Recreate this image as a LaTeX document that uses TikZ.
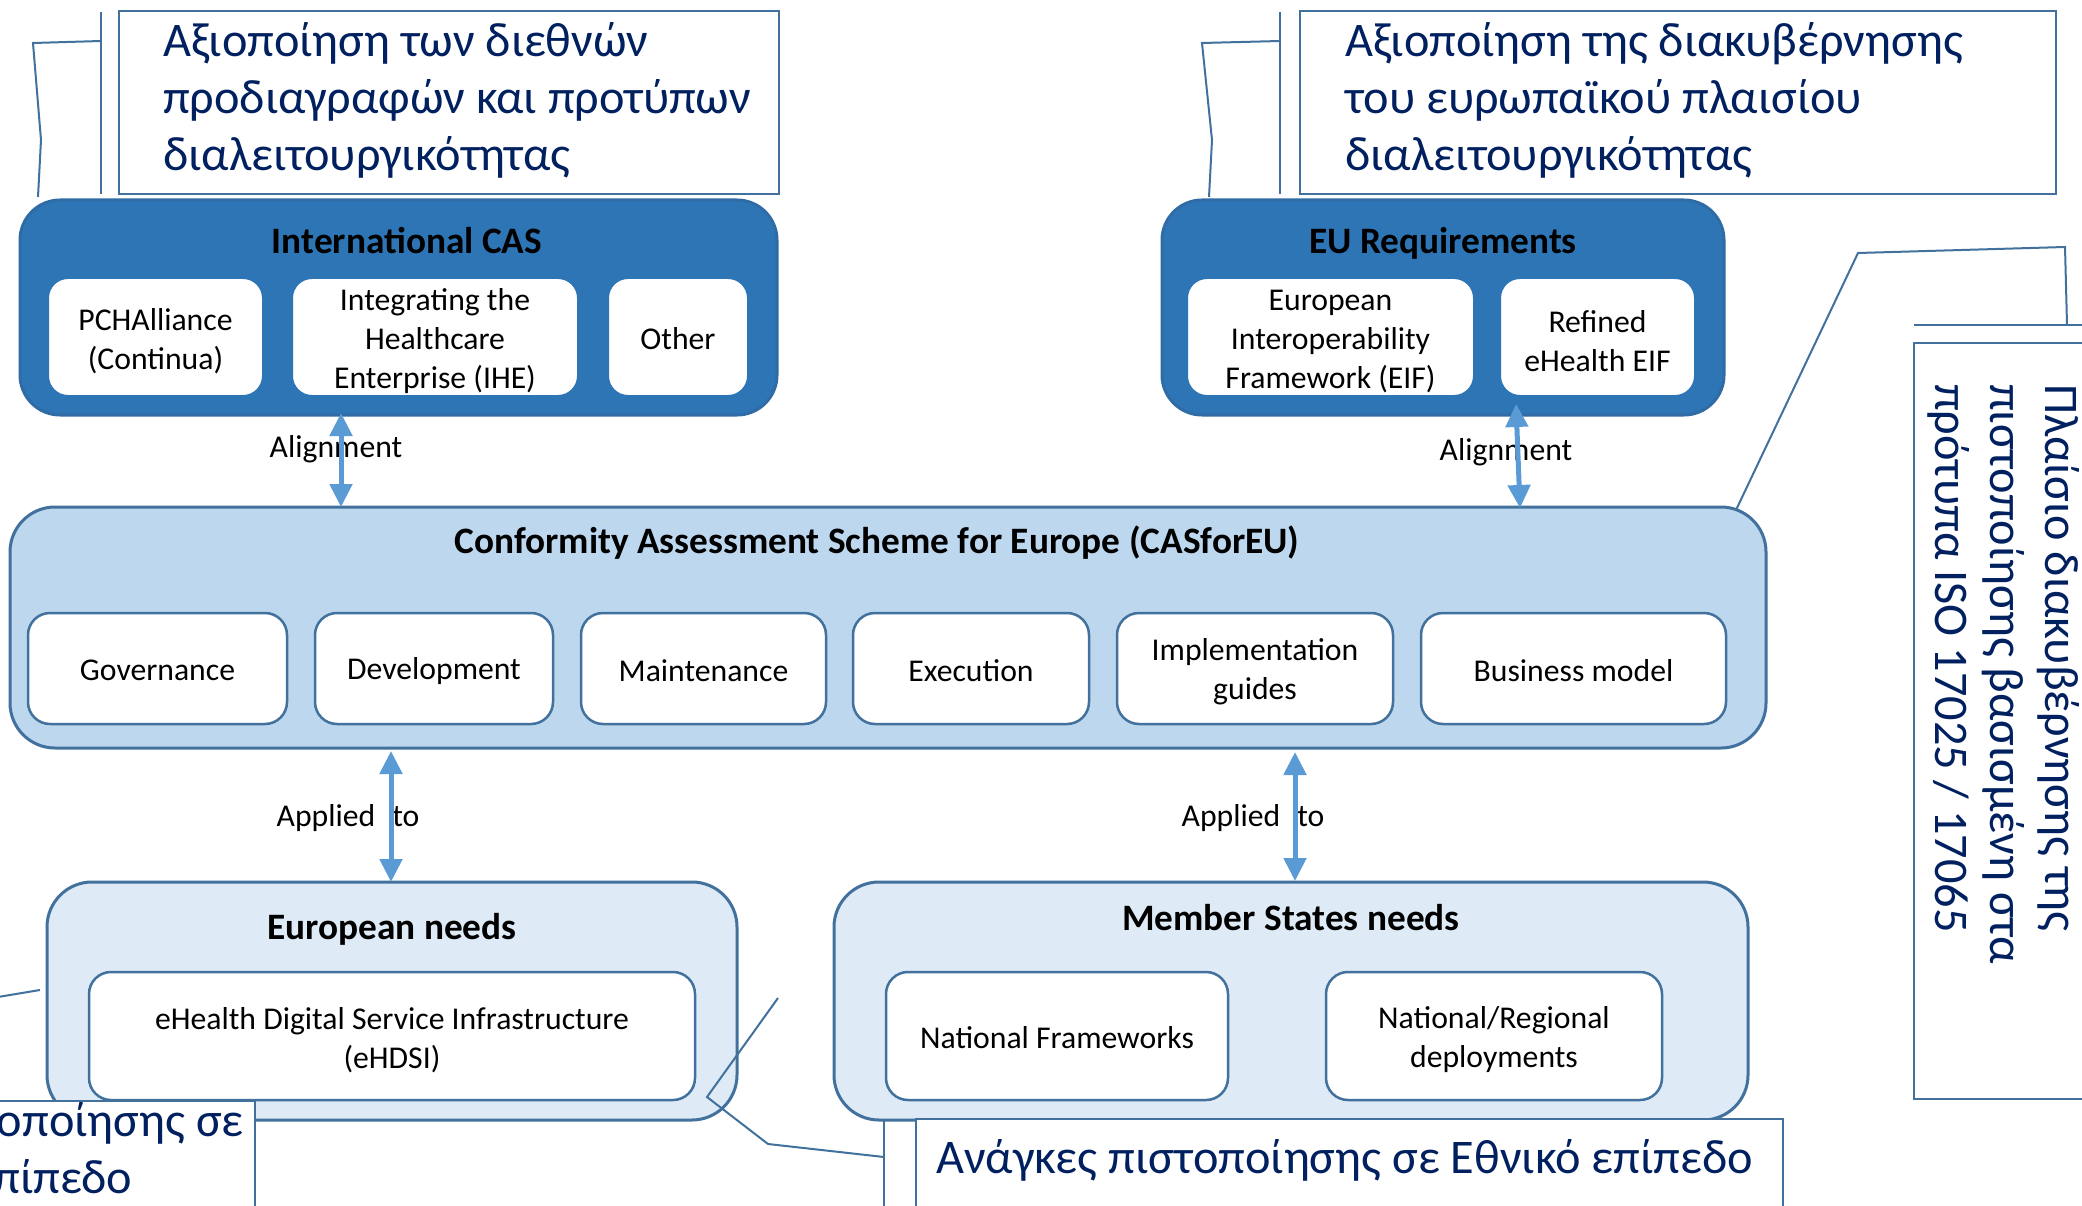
\documentclass[tikz,border=0pt]{standalone}
\usepackage{fontspec}
\setmainfont{Carlito}
\usetikzlibrary{arrows.meta}
\definecolor{darkblue}{HTML}{2E75B6}
\definecolor{darkedge}{HTML}{2F6CA6}
\definecolor{midfill}{HTML}{BDD7EE}
\definecolor{lightfill}{HTML}{DEEBF7}
\definecolor{edgeblue}{HTML}{41719C}
\definecolor{navy}{HTML}{002060}
\definecolor{arrowblue}{HTML}{5B9BD5}
\begin{document}
\begin{tikzpicture}[x=1pt,y=-1pt,
  bigdark/.style={draw=darkedge, line width=3pt, fill=darkblue, rounded corners=40pt, inner sep=0pt},
  bigmid/.style={draw=edgeblue, line width=3pt, fill=midfill, rounded corners=45pt, inner sep=0pt},
  biglight/.style={draw=edgeblue, line width=3pt, fill=lightfill, rounded corners=45pt, inner sep=0pt},
  whitein/.style={draw=darkblue, line width=2pt, fill=white, rounded corners=20pt, inner sep=0pt},
  whiteedge/.style={draw=edgeblue, line width=2.5pt, fill=white, rounded corners=22pt, inner sep=0pt},
  intext/.style={inner sep=0pt, align=center, font=\fontsize{31.7}{39}\selectfont},
  titletext/.style={font=\fontsize{37.3}{45}\selectfont\bfseries, inner sep=0pt},
  labeltext/.style={font=\fontsize{31.7}{39}\selectfont, inner sep=0pt},
  callbox/.style={draw=edgeblue, line width=2pt, fill=white, inner sep=0pt},
  calltext/.style={font=\fontsize{48.3}{57}\selectfont, text=navy, inner sep=0pt, align=left},
  leader/.style={draw=edgeblue, line width=2pt},
  biarrow/.style={draw=arrowblue, line width=5pt, {Triangle[length=23pt,width=22pt]}-{Triangle[length=23pt,width=22pt]}}
]
\useasboundingbox (0,0) rectangle (2082,1206);
\fill[white] (0,0) rectangle (2082,1206);
\clip (0,0) rectangle (2082,1206);

% ---------- callouts (top) ----------
\node[callbox, minimum width=660pt, minimum height=183pt] (tlbox) at (448.5,102.5) {};
\node[calltext, anchor=north west] (tltext) at (163,22) {Αξιοποίηση των διεθνών\\προδιαγραφών και προτύπων\\διαλειτουργικότητας};
\coordinate (tlbar1) at (101,12);
\coordinate (tlbar2) at (101,194);
\coordinate (tlj) at (101,41);
\coordinate (tlw1) at (33,43);
\coordinate (tlw2) at (41,140);
\coordinate (tlend) at (38,197);
\draw[leader] (tlbar1) -- (tlbar2);
\draw[leader] (tlj) -- (tlw1) -- (tlw2) -- (tlend);

\node[callbox, minimum width=756pt, minimum height=183pt] (trbox) at (1678,102.5) {};
\node[calltext, anchor=north west] (trtext) at (1345,22) {Αξιοποίηση της διακυβέρνησης\\του ευρωπαϊκού πλαισίου\\διαλειτουργικότητας};
\coordinate (trbar1) at (1280,12);
\coordinate (trbar2) at (1280,194);
\coordinate (trj) at (1280,41);
\coordinate (trw1) at (1202,43);
\coordinate (trw2) at (1212,140);
\coordinate (trend) at (1209,197);
\draw[leader] (trbar1) -- (trbar2);
\draw[leader] (trj) -- (trw1) -- (trw2) -- (trend);

% ---------- International CAS ----------
\node[bigdark, minimum width=757pt, minimum height=215pt] (intcas) at (398.5,307.5) {};
\node[titletext] (intcastitle) at (407,241) {International CAS};
\node[whitein, minimum width=215pt, minimum height=118pt] (pch) at (155.5,337) {};
\node[intext] (pcht) at ([yshift=-4.5pt]pch.center) {PCHAlliance\\(Continua)};
\node[whitein, minimum width=286pt, minimum height=118pt] (ihe) at (435,337) {};
\node[intext] (ihet) at ([yshift=-4.5pt]ihe.center) {Integrating the\\Healthcare\\Enterprise (IHE)};
\node[whitein, minimum width=140pt, minimum height=118pt] (other) at (678,337) {};
\node[intext] (othert) at ([yshift=-2pt]other.center) {Other};

% ---------- EU Requirements ----------
\node[bigdark, minimum width=562pt, minimum height=215pt] (eureq) at (1443,307.5) {};
\node[titletext] (eureqtitle) at (1443,243.5) {EU Requirements};
\node[whitein, minimum width=287pt, minimum height=118pt] (eif) at (1330.5,337) {};
\node[intext] (eift) at ([yshift=-5pt]eif.center) {European\\Interoperability\\Framework (EIF)};
\node[whitein, minimum width=195pt, minimum height=118pt] (refined) at (1597.5,337) {};
\node[intext] (refinedt) at ([yshift=-4.5pt]refined.center) {Refined\\eHealth EIF};

% ---------- right vertical callout ----------
\node[callbox, minimum width=200pt, minimum height=756pt] (rbox) at (2014,721) {};
\coordinate (rbar1) at (1914,325);
\coordinate (rbar2) at (2100,325);
\draw[leader] (rbar1) -- (rbar2);
\node[calltext, rotate=-90, anchor=north west, font=\fontsize{48.3}{55}\selectfont] (rtext) at (2080,384) {Πλαίσιο διακυβέρνησης της\\πιστοποίησης βασισμένη στα\\πρότυπα ISO 17025 / 17065};

% ---------- CASforEU ----------
\node[bigmid, minimum width=1756pt, minimum height=241pt] (cas) at (888,627.5) {};
\coordinate (rj) at (2067,325);
\coordinate (rw1) at (2065,247);
\coordinate (rw2) at (1858,253);
\coordinate (rend) at (1736,510);
\draw[leader] (rj) -- (rw1) -- (rw2) -- (rend);
\node[titletext] (castitle) at (877,543) {Conformity Assessment Scheme for Europe (CASforEU)};
\node[whiteedge, minimum width=259pt, minimum height=111pt] (gov) at (157.5,668.5) {};
\node[intext] (govt) at ([yshift=-2pt]gov.center) {Governance};
\node[whiteedge, minimum width=238pt, minimum height=111pt] (dev) at (434,668.5) {};
\node[intext] (devt) at ([yshift=-3pt]dev.center) {Development};
\node[whiteedge, minimum width=245pt, minimum height=111pt] (maint) at (703.5,668.5) {};
\node[intext] (maintt) at ([yshift=-2pt]maint.center) {Maintenance};
\node[whiteedge, minimum width=236pt, minimum height=111pt] (exec) at (971,668.5) {};
\node[intext] (exect) at ([yshift=-2pt]exec.center) {Execution};
\node[whiteedge, minimum width=276pt, minimum height=111pt] (impl) at (1255,668.5) {};
\node[intext] (implt) at ([yshift=-3pt]impl.center) {Implementation\\guides};
\node[whiteedge, minimum width=305pt, minimum height=111pt] (bus) at (1573.5,668.5) {};
\node[intext] (bust) at ([yshift=-2pt]bus.center) {Business model};

% ---------- alignment arrows ----------
\node[labeltext] (al1) at (336,449) {Alignment};
\node[labeltext] (al2) at (1506,452) {Alignment};
\coordinate (a1t) at (341,413);
\coordinate (a1b) at (341,507);
\coordinate (a2t) at (1516,404);
\coordinate (a2b) at (1520,508);
\draw[biarrow] (a1t) -- (a1b);
\draw[biarrow] (a2t) -- (a2b);

% ---------- needs ----------
\node[biglight, minimum width=690pt, minimum height=238pt] (euneeds) at (392,1001) {};
\node[titletext] (euneedstitle) at (392,929.5) {European needs};
\node[whiteedge, minimum width=606pt, minimum height=128pt] (ehdsi) at (392,1036) {};
\node[intext] (ehdsit) at ([yshift=-4pt]ehdsi.center) {eHealth Digital Service Infrastructure\\(eHDSI)};

\node[biglight, minimum width=914pt, minimum height=238pt] (msneeds) at (1291,1001) {};
\node[titletext] (msneedstitle) at (1291,918) {Member States needs};
\node[whiteedge, minimum width=342pt, minimum height=128pt] (nf) at (1057,1036) {};
\node[intext] (nft) at ([yshift=-2pt]nf.center) {National Frameworks};
\node[whiteedge, minimum width=336pt, minimum height=128pt] (nr) at (1494,1036) {};
\node[intext] (nrt) at ([yshift=-4pt]nr.center) {National/Regional\\deployments};

% ---------- applied arrows ----------
\node[labeltext] (ap1) at (348,818) {Applied\hspace{17pt}to};
\node[labeltext] (ap2) at (1253,818) {Applied\hspace{17pt}to};
\coordinate (b1t) at (391,751);
\coordinate (b1b) at (391,882);
\coordinate (b2t) at (1295,752);
\coordinate (b2b) at (1295,881);
\draw[biarrow] (b1t) -- (b1b);
\draw[biarrow] (b2t) -- (b2b);

% ---------- bottom callouts ----------
\node[callbox, minimum width=400pt, minimum height=140pt] (blbox) at (55,1171) {};
\node[calltext, anchor=north east] (bltext) at (244,1102) {Ανάγκες πιστοποίησης σε\\Ευρωπαϊκό επίπεδο};
\coordinate (blj) at (-20,1000);
\coordinate (blend) at (40,990);
\draw[leader] (blj) -- (blend);

\node[callbox, minimum width=867pt, minimum height=140pt] (brbox) at (1349.5,1189) {};
\node[calltext, anchor=base west] (brtext) at (936,1173) {Ανάγκες πιστοποίησης σε Εθνικό επίπεδο};
\coordinate (brbar1) at (884,1119);
\coordinate (brbar2) at (884,1220);
\coordinate (brj) at (884,1157);
\coordinate (brw1) at (768,1144);
\coordinate (brw2) at (707,1097);
\coordinate (brend) at (778,998);
\draw[leader] (brbar1) -- (brbar2);
\draw[leader] (brj) -- (brw1) -- (brw2) -- (brend);
\end{tikzpicture}
\end{document}
